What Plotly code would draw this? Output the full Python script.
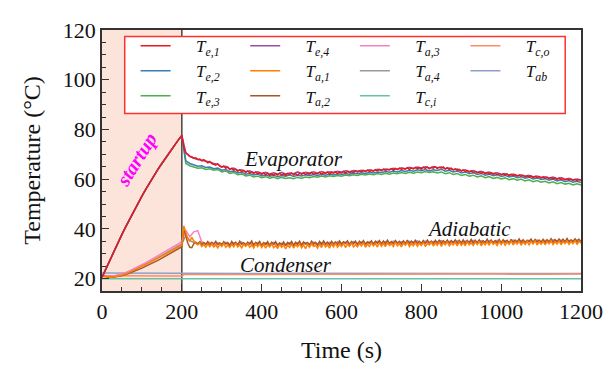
import plotly.graph_objects as go

# ---------------- data ----------------
t_startup = list(range(0, 200, 10))          # 0..190 s
t_run5 = list(range(200, 1201, 5))           # 200..1200 s, 5 s step
t_run10 = list(range(200, 1201, 10))         # 200..1200 s, 10 s step
t_cond = [0, 100, 200, 205, 300, 400, 500, 600, 700, 800, 900, 1000, 1100, 1150, 1200]

te_startup = [20.5, 24.1, 27.6, 31.1, 34.5, 37.8, 41.0, 44.2, 47.3, 50.3,
              53.2, 56.0, 58.8, 61.4, 63.9, 66.3, 68.7, 71.0, 73.3, 75.5]

te1_run = [77.7, 72.6, 70.6, 69.8, 69.1, 68.9, 68.4, 68.6, 67.9, 68.1, 67.4, 67.8, 67.0, 66.6, 67.1, 66.3, 66.0, 65.6, 66.1, 65.2,
           64.8, 65.3, 64.4, 64.9, 63.9, 64.3, 63.6, 64.0, 63.2, 63.7, 63.0, 63.5, 62.7, 63.3, 62.5, 62.9, 62.3, 62.8, 62.1, 62.6,
           61.9, 62.5, 61.8, 62.4, 61.6, 62.2, 61.5, 62.3, 61.7, 62.4, 61.6, 62.1, 61.5, 62.3, 61.8, 62.5, 61.7, 62.2, 61.6, 62.4,
           61.9, 62.6, 61.8, 62.3, 62.0, 62.7, 61.9, 62.4, 62.2, 62.8, 62.0, 62.6, 62.3, 62.9, 62.1, 62.7, 62.4, 63.0, 62.2, 62.8,
           62.5, 63.1, 62.4, 63.2, 62.6, 63.0, 62.7, 63.4, 62.8, 63.3, 62.9, 63.5, 63.0, 63.6, 63.1, 63.5, 63.2, 63.8, 63.3, 63.9,
           63.4, 64.0, 63.5, 63.9, 63.7, 64.2, 63.6, 64.3, 63.8, 64.4, 63.9, 64.3, 64.0, 64.6, 63.9, 64.5, 64.1, 64.7, 64.2, 64.6,
           64.0, 64.8, 64.3, 64.9, 64.2, 64.7, 64.4, 65.0, 64.3, 64.8, 64.5, 64.9, 64.1, 64.6, 63.9, 64.4, 63.7, 64.1, 63.5, 63.9,
           63.2, 63.7, 63.0, 63.4, 62.8, 63.3, 62.6, 63.1, 62.5, 62.9, 62.3, 62.8, 62.2, 62.6, 62.0, 62.5, 61.9, 62.3, 61.8, 62.2,
           61.7, 62.1, 61.6, 62.0, 61.4, 61.9, 61.3, 61.8, 61.2, 61.6, 61.1, 61.5, 60.9, 61.4, 60.8, 61.3, 60.7, 61.1, 60.6, 61.0,
           60.5, 60.9, 60.3, 60.8, 60.2, 60.6, 60.1, 60.5, 59.9, 60.4, 59.8, 60.3, 59.7, 60.1, 59.6, 60.0, 59.5, 59.9, 59.4, 59.8,
           59.5]

te2_run = [77.5, 67.4, 66.3, 65.9, 65.2, 65.4, 64.7, 64.9, 64.2, 64.5,
           63.6, 63.9, 63.0, 63.3, 62.5, 62.8, 62.0, 62.3, 61.7, 62.0,
           61.3, 61.7, 61.2, 61.6, 61.0, 61.5, 61.2, 61.7, 61.1, 61.6,
           61.3, 61.8, 61.4, 61.9, 61.5, 62.0, 61.6, 62.1, 61.7, 62.2,
           61.9, 62.3, 62.0, 62.5, 62.2, 62.6, 62.3, 62.8, 62.5, 62.9,
           62.7, 63.1, 62.8, 63.3, 62.9, 63.5, 63.1, 63.6, 63.2, 63.8,
           63.4, 63.9, 63.3, 63.8, 63.5, 64.0, 63.2, 63.6, 62.9, 63.3,
           62.5, 62.9, 62.2, 62.6, 61.9, 62.3, 61.6, 62.0, 61.4, 61.8,
           61.1, 61.5, 60.9, 61.3, 60.6, 61.0, 60.4, 60.8, 60.1, 60.5,
           59.9, 60.2, 59.6, 60.0, 59.3, 59.7, 59.0, 59.4, 58.8, 59.1,
           58.6]

te3_run = [77.3, 66.3, 65.4, 64.9, 64.4, 64.6, 63.9, 64.2, 63.6, 63.9,
           62.9, 63.3, 62.3, 62.7, 61.8, 62.1, 61.3, 61.6, 60.9, 61.2,
           60.6, 61.0, 60.4, 60.8, 60.2, 60.7, 60.3, 60.6, 60.2, 60.7,
           60.4, 60.9, 60.6, 61.1, 60.8, 61.3, 60.9, 61.4, 61.1, 61.5,
           61.2, 61.7, 61.4, 61.8, 61.5, 62.0, 61.7, 62.1, 61.8, 62.3,
           61.9, 62.4, 62.0, 62.5, 62.2, 62.7, 62.3, 62.8, 62.4, 62.9,
           62.6, 63.1, 62.7, 63.0, 62.5, 62.9, 62.2, 62.6, 61.9, 62.3,
           61.5, 61.9, 61.2, 61.6, 60.9, 61.3, 60.6, 61.0, 60.3, 60.7,
           60.1, 60.5, 59.8, 60.2, 59.6, 60.0, 59.3, 59.7, 59.0, 59.4,
           58.8, 59.1, 58.5, 58.9, 58.2, 58.6, 58.0, 58.3, 57.7, 58.1,
           57.6]

te4_run = [77.6, 70.6, 69.3, 68.4, 67.9, 67.6, 67.0, 66.9, 66.3, 66.0,
           64.9, 65.2, 64.1, 64.5, 63.5, 63.8, 63.0, 63.4, 62.6, 63.0,
           62.3, 62.8, 62.1, 62.6, 62.0, 62.7, 62.1, 62.5, 62.2, 62.9,
           62.3, 62.8, 62.5, 63.0, 62.4, 63.1, 62.6, 63.0, 62.8, 63.2,
           62.9, 63.4, 63.0, 63.5, 63.2, 63.6, 63.3, 63.8, 63.4, 64.0,
           63.7, 64.1, 63.9, 64.4, 64.0, 64.6, 64.2, 64.8, 64.3, 64.9,
           64.5, 65.0, 64.4, 65.1, 64.6, 64.9, 64.2, 64.5, 63.8, 64.1,
           63.4, 63.8, 63.1, 63.5, 62.8, 63.2, 62.5, 62.9, 62.3, 62.6,
           61.9, 62.3, 61.7, 62.1, 61.4, 61.8, 61.2, 61.6, 60.9, 61.3,
           60.7, 61.0, 60.4, 60.8, 60.2, 60.6, 59.9, 60.3, 59.7, 60.0,
           59.6]

ta1_startup = [21.0, 20.6, 20.5, 20.6, 20.9, 21.3, 21.9, 22.6, 23.3, 24.1,
               24.9, 25.7, 26.5, 27.4, 28.2, 29.1, 30.0, 30.9, 31.8, 32.7]
ta2_startup = [21.0, 20.6, 20.5, 20.6, 20.8, 21.1, 21.6, 22.2, 22.8, 23.5,
               24.2, 25.0, 25.7, 26.5, 27.3, 28.2, 29.1, 30.0, 30.9, 31.9]
ta3_startup = [21.2, 20.9, 20.8, 21.0, 21.4, 21.9, 22.5, 23.2, 23.9, 24.7,
               25.6, 26.4, 27.3, 28.1, 29.0, 29.9, 30.8, 31.7, 32.7, 33.8]
ta4_startup = [21.0, 20.7, 20.6, 20.7, 21.0, 21.4, 22.0, 22.6, 23.4, 24.2,
               25.0, 25.8, 26.7, 27.5, 28.4, 29.3, 30.2, 31.1, 32.0, 32.9]

ta1_run = [33.4, 41.2, 38.1, 36.0, 35.1, 36.6, 35.2, 34.1, 33.6, 34.3, 32.9, 33.7, 32.6, 33.9, 32.8, 34.0, 32.7, 33.5, 32.4, 33.8,
           32.9, 34.1, 32.6, 33.4, 32.5, 33.9, 32.8, 34.2, 32.7, 33.6, 32.4, 33.8, 33.0, 34.0, 32.6, 33.5, 32.3, 33.9, 32.8, 34.1,
           32.5, 33.7, 32.2, 33.6, 32.7, 34.0, 32.4, 33.3, 32.1, 33.8, 32.6, 33.5, 31.9, 33.4, 32.5, 33.9, 32.3, 33.6, 32.8, 34.0,
           32.4, 33.5, 32.0, 33.7, 32.6, 34.1, 32.9, 33.4, 32.3, 33.8, 32.5, 34.2, 32.7, 33.6, 32.2, 33.9, 32.8, 34.3, 32.6, 33.7,
           32.9, 34.2, 32.5, 33.8, 33.0, 34.4, 32.7, 33.6, 32.8, 34.1, 33.1, 34.5, 32.6, 33.9, 32.9, 34.3, 33.2, 34.0, 32.7, 34.4,
           33.0, 34.2, 32.8, 34.5, 33.3, 33.9, 32.9, 34.6, 33.1, 34.1, 32.7, 34.3, 33.4, 34.7, 32.9, 34.0, 33.2, 34.5, 33.0, 34.2,
           33.3, 34.6, 32.9, 34.1, 33.5, 34.8, 33.1, 34.3, 33.4, 34.7, 33.0, 34.4, 33.6, 34.9, 33.2, 34.2, 33.5, 34.6, 33.1, 34.8,
           33.4, 34.5, 33.2, 34.9, 33.6, 34.3, 33.3, 34.7, 33.7, 35.0, 33.2, 34.4, 33.6, 34.8, 33.4, 35.1, 33.8, 34.5, 33.3, 34.9,
           33.7, 35.0, 33.4, 34.6, 33.8, 35.2, 33.5, 34.7, 33.9, 35.1, 33.4, 34.8, 33.7, 35.0, 33.6, 34.9, 33.9, 35.3, 33.5, 34.8,
           33.8, 35.1, 33.6, 34.9, 34.0, 35.2, 33.7, 34.8, 33.9, 35.3, 33.6, 35.0, 34.1, 35.2, 33.8, 34.9, 34.0, 35.4, 33.7, 35.1,
           34.2]

ta2_run = [32.8, 40.1, 36.6, 34.2, 32.6, 32.4, 34.0, 34.6, 33.9, 34.8, 33.6, 34.5, 33.8, 34.9, 33.5, 34.6, 33.9, 35.0, 33.7, 34.4,
           33.6, 34.8, 33.9, 34.5, 33.4, 34.9, 33.7, 34.6, 33.5, 35.0, 33.8, 34.4, 33.6, 34.7, 33.9, 35.1, 33.5, 34.6, 33.8, 34.9,
           33.4, 34.5, 33.7, 34.8, 33.3, 34.6, 33.8, 34.9, 33.5, 34.4, 33.6, 34.7, 33.2, 34.5, 33.7, 34.9, 33.4, 34.6, 33.8, 35.0,
           33.5, 34.7, 33.9, 34.5, 33.6, 35.0, 33.8, 34.6, 33.5, 34.9, 33.7, 35.1, 33.9, 34.7, 33.6, 35.0, 34.0, 34.8, 33.7, 35.1,
           33.9, 34.8, 34.1, 35.2, 33.8, 34.9, 34.0, 35.1, 33.7, 35.0, 34.2, 35.3, 33.9, 34.8, 34.1, 35.2, 33.8, 35.0, 34.2, 35.3,
           34.0, 35.1, 33.9, 35.4, 34.2, 34.9, 34.0, 35.3, 34.3, 35.0, 33.9, 35.2, 34.1, 35.5, 34.0, 35.1, 34.3, 35.4, 34.1, 35.0,
           34.2, 35.3, 34.0, 35.5, 34.4, 35.1, 34.1, 35.4, 34.3, 35.6, 34.0, 35.2, 34.4, 35.5, 34.2, 35.3, 34.5, 35.6, 34.1, 35.4,
           34.3, 35.5, 34.1, 35.3, 34.5, 35.7, 34.2, 35.4, 34.4, 35.6, 34.3, 35.2, 34.6, 35.8, 34.2, 35.5, 34.5, 35.3, 34.3, 35.7,
           34.4, 35.6, 34.6, 35.4, 34.3, 35.8, 34.5, 35.5, 34.7, 35.9, 34.4, 35.6, 34.6, 35.4, 34.8, 35.9, 34.5, 35.7, 34.7, 35.5,
           34.6, 35.8, 34.4, 35.6, 34.8, 36.0, 34.5, 35.7, 34.9, 35.9, 34.6, 35.8, 34.8, 36.1, 34.7, 35.6, 34.9, 36.0, 34.6, 35.8,
           34.9]

ta3_run = [34.9, 39.4, 36.8, 38.8, 39.3, 34.6, 33.9, 34.5, 33.4, 34.2,
           33.5, 34.3, 33.2, 34.0, 33.6, 34.4, 33.3, 34.1, 33.5, 34.2,
           33.2, 34.0, 33.4, 34.3, 33.1, 33.9, 33.5, 34.2, 33.3, 34.1,
           33.4, 34.2, 33.2, 34.4, 33.6, 34.1, 33.5, 34.3, 33.4, 34.5,
           33.7, 34.4, 33.5, 34.6, 33.8, 34.3, 33.6, 34.5, 33.9, 34.7,
           33.8, 34.6, 33.7, 34.8, 34.0, 34.5, 33.8, 34.7, 34.1, 34.9,
           34.0, 34.8, 33.9, 34.6, 34.2, 35.0, 34.0, 34.7, 34.3, 34.9,
           34.1, 34.8, 34.3, 35.1, 34.2, 34.9, 34.4, 35.0, 34.2, 35.1,
           34.4, 35.0, 34.3, 35.2, 34.5, 35.0, 34.3, 35.1, 34.6, 35.2,
           34.5, 35.1, 34.4, 35.3, 34.6, 35.2, 34.5, 35.0, 34.7, 35.3,
           34.8]

ta4_run = [33.9, 37.4, 35.2, 34.6, 34.1, 34.8, 33.7, 34.5, 33.6, 34.3,
           33.8, 34.6, 33.5, 34.4, 33.9, 34.7, 33.6, 34.3, 33.8, 34.5,
           33.5, 34.4, 33.7, 34.6, 33.4, 34.2, 33.8, 34.5, 33.6, 34.4,
           33.7, 34.5, 33.6, 34.7, 33.9, 34.4, 33.8, 34.6, 33.7, 34.8,
           34.0, 34.7, 33.8, 34.9, 34.1, 34.6, 33.9, 34.8, 34.2, 35.0,
           34.1, 34.9, 34.0, 35.1, 34.3, 34.8, 34.1, 35.0, 34.4, 35.2,
           34.3, 35.1, 34.2, 34.9, 34.5, 35.3, 34.3, 35.0, 34.6, 35.2,
           34.4, 35.1, 34.6, 35.4, 34.5, 35.2, 34.7, 35.3, 34.5, 35.4,
           34.7, 35.3, 34.6, 35.5, 34.8, 35.3, 34.6, 35.4, 34.9, 35.5,
           34.8, 35.4, 34.7, 35.6, 34.9, 35.5, 34.8, 35.3, 35.0, 35.6,
           35.1]

tci = [19.9, 19.9, 19.9, 19.9, 19.9, 19.9, 19.8, 19.9, 19.9, 19.8, 19.9, 19.9, 19.8, 19.9, 19.9]
tco = [21.1, 21.0, 21.0, 21.6, 21.7, 21.8, 21.7, 21.7, 21.8, 21.7, 21.7, 21.8, 21.7, 21.8, 21.8]
tab = [22.2, 22.1, 22.1, 22.1, 22.1, 22.0, 22.1, 22.1, 22.0, 22.1, 22.1, 22.0, 22.1, 22.1, 22.0]

x_ticks = [0, 200, 400, 600, 800, 1000, 1200]
y_ticks = [20, 40, 60, 80, 100, 120]

# ---------------- styling ----------------
FONT = "Liberation Serif, Times New Roman, serif"

def lbl(main, sub):
    return "\u2002\u2002\u2009<i>%s</i><sub><i>%s</i></sub>" % (main, sub)

# (name, x, y, color, legend, rank, label) in drawing order (bottom first)
series = [
    ("T_ci", t_cond, tci, "#66c2a5", "legend3", 3, lbl("T", "c,i")),
    ("T_ab", t_cond, tab, "#8da0cb", "legend4", 2, lbl("T", "ab")),
    ("T_co", t_cond, tco, "#fc8d62", "legend4", 1, lbl("T", "c,o")),
    ("T_a4", t_startup + t_run10, ta4_startup + ta4_run, "#999999", "legend3", 2, lbl("T", "a,4")),
    ("T_a3", t_startup + t_run10, ta3_startup + ta3_run, "#f781bf", "legend3", 1, lbl("T", "a,3")),
    ("T_a2", t_startup + t_run5, ta2_startup + ta2_run, "#a65628", "legend2", 3, lbl("T", "a,2")),
    ("T_a1", t_startup + t_run5, ta1_startup + ta1_run, "#ff7f00", "legend2", 2, lbl("T", "a,1")),
    ("T_e3", t_startup + t_run10, te_startup + te3_run, "#4daf4a", "legend", 3, lbl("T", "e,3")),
    ("T_e2", t_startup + t_run10, te_startup + te2_run, "#377eb8", "legend", 2, lbl("T", "e,2")),
    ("T_e4", t_startup + t_run10, te_startup + te4_run, "#984ea3", "legend2", 1, lbl("T", "e,4")),
    ("T_e1", t_startup + t_run5, te_startup + te1_run, "#e41a1c", "legend", 1, lbl("T", "e,1")),
]

fig = go.Figure()
for name, xs, ys, col, leg, rank, text in series:
    fig.add_trace(go.Scatter(x=xs, y=ys, mode="lines", name=text,
                             line=dict(color=col, width=1.5),
                             legend=leg, legendrank=rank))

# page has an 8 px body margin: the figure is drawn at offset (8, 8)
OFF = 8
W, H = 613 - OFF, 369 - OFF
PL, PR, PT, PB = 102, 587, 18, 296     # plot frame in window pixels
L, R, T = PL - OFF, 613 - PR, PT - OFF
B = 369 - PB
pw, ph = PR - PL, PB - PT

def px(xp):
    return (xp - PL) / pw

def py(yp):
    return (PB - yp) / ph

leg_common = dict(orientation="v", yanchor="top", xanchor="left",
                  bgcolor="rgba(0,0,0,0)", borderwidth=0,
                  font=dict(family=FONT, size=17, color="#111"),
                  tracegroupgap=0, traceorder="normal")
col_x = [136, 247, 358, 470]
legs = {}
for i, key in enumerate(["legend", "legend2", "legend3", "legend4"]):
    legs[key] = dict(leg_common, x=px(col_x[i]), y=py(16))

fig.update_layout(
    width=W, height=H,
    margin=dict(l=L, r=R, t=T, b=B),
    paper_bgcolor="white", plot_bgcolor="white",
    font=dict(family=FONT, size=22, color="#111"),
    showlegend=True,
    **legs,
)

axis_common = dict(showline=True, linecolor="#333", linewidth=1.5, mirror=True,
                   ticks="inside", ticklen=7, tickwidth=1.3, tickcolor="#333",
                   showgrid=False, zeroline=False, ticklabeloverflow="allow",
                   tickfont=dict(family=FONT, size=22, color="#111"))
fig.update_xaxes(range=[0, 1200], tickvals=x_ticks, ticktext=[str(v) for v in x_ticks],
                 minor=dict(dtick=50, ticks="inside", ticklen=4, tickcolor="#333", tickwidth=1),
                 title=dict(text="Time (s)", font=dict(family=FONT, size=24), standoff=18),
                 **axis_common)
fig.update_yaxes(range=[15, 120], tickvals=y_ticks, ticktext=[str(v) for v in y_ticks],
                 minor=dict(dtick=5, ticks="inside", ticklen=4, tickcolor="#333", tickwidth=1),
                 title=dict(text="Temperature (°C)", font=dict(family=FONT, size=24), standoff=15),
                 **axis_common)

# startup shading and divider
fig.add_shape(type="rect", xref="x", yref="y domain", x0=0, x1=200, y0=0, y1=1,
              fillcolor="#fde4da", line=dict(width=0), layer="below")
fig.add_shape(type="line", xref="x", yref="y domain", x0=200, x1=200, y0=0, y1=1,
              line=dict(color="#444", width=1.5), layer="below")
# legend frame
fig.add_shape(type="rect", xref="paper", yref="paper",
              x0=px(125), x1=px(571), y0=py(107), y1=py(25),
              fillcolor="white", line=dict(color="#ff3030", width=1.5), layer="above")

ann_font = dict(family=FONT, size=21, color="#111")
fig.add_annotation(x=480, y=68.3, text="<i>Evaporator</i>", showarrow=False, font=ann_font)
fig.add_annotation(x=920, y=39.9, text="<i>Adiabatic</i>", showarrow=False, font=ann_font)
fig.add_annotation(x=460, y=25.5, text="<i>Condenser</i>", showarrow=False, font=ann_font)
fig.add_annotation(x=87, y=68, text="<b><i>startup</i></b>", showarrow=False, textangle=-58,
                   font=dict(family=FONT, size=20, color="#ff00ff"))

fig.write_html("out.html")
